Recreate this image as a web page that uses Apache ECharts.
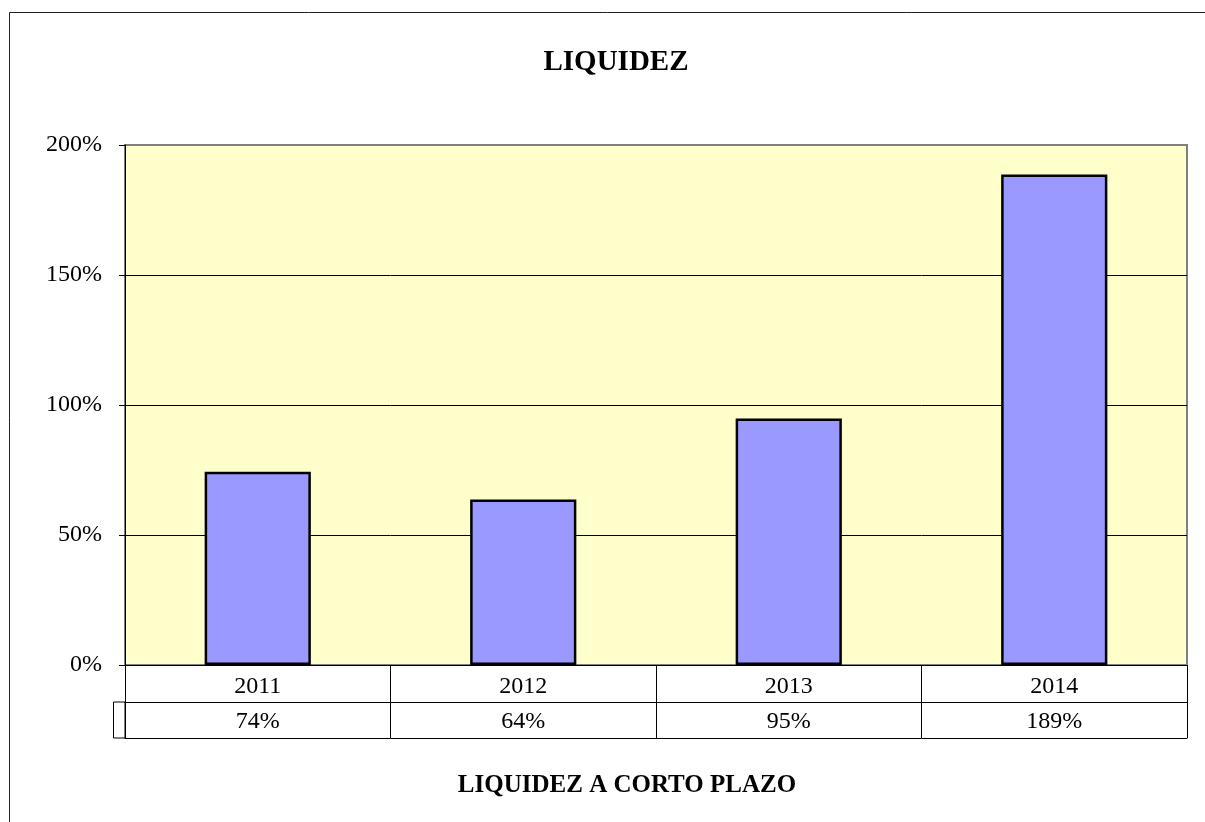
<!DOCTYPE html>
<html>
<head>
<meta charset="utf-8">
<title>Liquidez</title>
<script src="https://cdn.jsdelivr.net/npm/echarts@6/dist/echarts.min.js"></script>
<style>
  html, body { margin: 0; padding: 0; background: #fff; }
  #chart { width: 1205px; height: 822px; }
</style>
</head>
<body>
<div id="chart"></div>
<script>
// datos
const years = ['2011', '2012', '2013', '2014'];
const liquidez = [74.3, 63.7, 94.8, 188.7];
const yTicks = [0, 50, 100, 150, 200];

const serif = 'Liberation Serif';

let chart = echarts.init(document.getElementById('chart'));

let option = {
  backgroundColor: '#fff',
  animation: false,
  title: [{
    text: 'LIQUIDEZ',
    left: 611,
    top: 43,
    textAlign: 'center',
    textStyle: { fontFamily: serif, fontSize: 29, fontWeight: 'bold', color: '#000' }
  }, {
    text: 'LIQUIDEZ A CORTO PLAZO',
    left: 622,
    top: 768,
    textAlign: 'center',
    textStyle: { fontFamily: serif, fontSize: 25, fontWeight: 'bold', color: '#000' }
  }],
  grid: {
    left: 125,
    right: 18,
    top: 145,
    bottom: 157,
    show: true,
    backgroundColor: '#FFFFCC',
    borderColor: '#808080',
    borderWidth: 2
  },
  xAxis: [{
    // fila de años
    type: 'category',
    data: years,
    position: 'bottom',
    axisLine: { lineStyle: { color: '#000', width: 1 } },
    axisTick: { show: true, length: 73, lineStyle: { color: '#000', width: 1 } },
    axisLabel: { interval: 0, margin: 10, fontFamily: serif, fontSize: 24, color: '#000' }
  }, {
    // fila de valores
    type: 'category',
    data: years,
    position: 'bottom',
    offset: 37,
    axisLine: { show: true, lineStyle: { color: '#000', width: 1 } },
    axisTick: { show: false },
    axisLabel: {
      interval: 0,
      margin: 8,
      fontFamily: serif,
      fontSize: 24,
      color: '#000',
      formatter: function (v, i) { return Math.round(liquidez[i]) + '%'; }
    }
  }, {
    type: 'category',
    data: years,
    position: 'bottom',
    offset: 73,
    axisLine: { show: true, lineStyle: { color: '#000', width: 1 } },
    axisTick: { show: false },
    axisLabel: { show: false }
  }],
  yAxis: {
    type: 'value',
    min: yTicks[0],
    max: yTicks[yTicks.length - 1],
    interval: 50,
    axisLine: { show: true, lineStyle: { color: '#000', width: 1 } },
    axisTick: { show: true, length: 6, lineStyle: { color: '#000' } },
    splitLine: { show: true, showMaxLine: false, lineStyle: { color: '#000', width: 1 } },
    axisLabel: { formatter: '{value}%', margin: 23, fontFamily: serif, fontSize: 24, color: '#000' }
  },
  series: [{
    type: 'bar',
    data: liquidez,
    xAxisIndex: 0,
    barWidth: '40%',
    itemStyle: { color: '#9999FF', borderColor: '#000', borderWidth: 2.5 }
  }],
  graphic: [{
    // marco exterior
    type: 'rect',
    shape: { x: 9.5, y: 12.5, width: 1400, height: 1000 },
    style: { fill: 'none', stroke: '#222', lineWidth: 1 },
    silent: true
  }, {
    // clave de leyenda de la tabla
    type: 'rect',
    shape: { x: 113.5, y: 702, width: 11.5, height: 36 },
    style: { fill: 'none', stroke: '#000', lineWidth: 1 },
    silent: true
  }]
};

chart.setOption(option);
</script>
</body>
</html>
